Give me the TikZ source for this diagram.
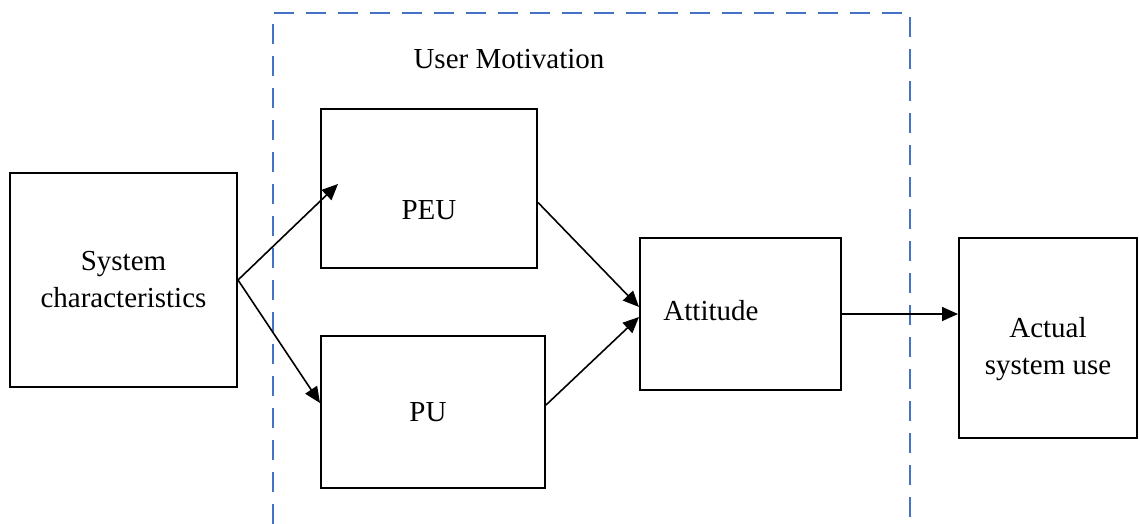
\documentclass[tikz,border=0pt]{standalone}
\usepackage{fontspec}
\setmainfont{Liberation Serif}
\usetikzlibrary{arrows.meta,positioning}
\definecolor{motblue}{RGB}{68,114,196}
\tikzset{
  box/.style={draw,line width=1pt,inner sep=0pt,align=center},
  link/.style={-{Triangle[length=8pt,width=7pt]},line width=0.8pt},
  group/.style={draw=motblue,dash pattern=on 10pt off 6pt,line width=1pt}
}
\begin{document}
\begin{tikzpicture}[x=0.5pt,y=-0.5pt,font=\fontsize{14.5}{18.5}\selectfont]
  \useasboundingbox (0,0) rectangle (1139,524);
  \draw[group] (273,524) -- (273,13) -- (910,13) -- (910,524);
  \node (m) at (509,59) {User Motivation};
  \node[box,minimum width=113.5pt,minimum height=107pt] (0) at (123.5,280) {System\\characteristics};
  \node[box,minimum width=108pt,minimum height=79.5pt,label={[yshift=-10.75pt]center:PEU}] (1) at (429,188.5) {};
  \node[box,minimum width=112pt,minimum height=76pt,label={[xshift=-2.5pt]center:PU}] (2) at (433,412) {};
  \node[box,minimum width=100.5pt,minimum height=76pt,label={[xshift=-14.75pt,yshift=1.5pt]center:Attitude}] (3) at (740.5,314) {};
  \node[box,minimum width=89pt,minimum height=100pt,label={[yshift=-5.5pt,align=center]center:Actual\\system use}] (4) at (1048,338) {};
  \draw[link] (0.east) -- ([xshift=9pt,yshift=2.25pt]1.west);
  \draw[link] (0.east) -- ([yshift=4.5pt]2.west);
  \draw[link] ([yshift=-7pt]1.east) -- ([yshift=3.5pt]3.west);
  \draw[link] ([yshift=3.5pt]2.east) -- ([yshift=-1.5pt]3.west);
  \draw[link] (3.east) -- (3.east -| 4.west);
\end{tikzpicture}
\end{document}
